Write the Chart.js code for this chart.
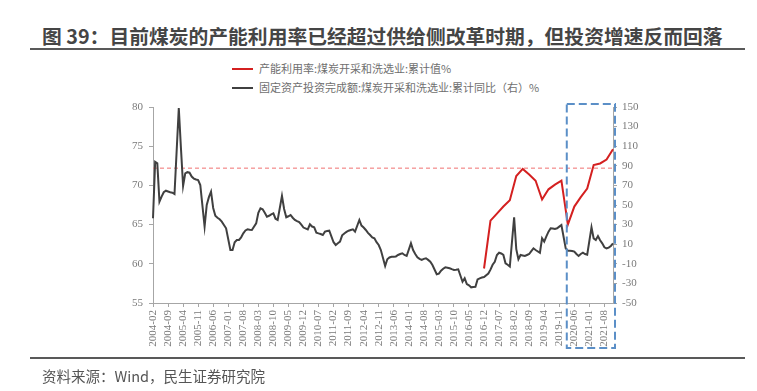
<!DOCTYPE html>
<html>
<head>
<meta charset="utf-8">
<script src="https://cdn.jsdelivr.net/npm/chart.js@4.4.1/dist/chart.umd.min.js"></script>
<style>
  body { margin: 0; background: #fff; width: 757px; height: 391px; overflow: hidden; position: relative;
         font-family: "Noto Sans CJK SC", sans-serif; }
  #title { position: absolute; left: 42px; top: 25px; font-size: 19.8px; line-height: 22px; font-weight: bold;
           color: #454545; white-space: nowrap; }
  .rule { position: absolute; left: 30px; width: 715px; height: 2px; background: #595959; }
  #source { position: absolute; left: 42px; top: 366px; font-size: 14.5px; line-height: 20px; color: #555; white-space: nowrap; }
  .legend { position: absolute; left: 232px; font-size: 11px; line-height: 14px; color: #6f6f6f; white-space: nowrap; }
  .legend i { display: inline-block; width: 21px; height: 2px; vertical-align: middle; margin-right: 6px; position: relative; top: -1px; }
  canvas { position: absolute; left: 0; top: 0; }
</style>
</head>
<body>
<div id="title">图 39：目前煤炭的产能利用率已经超过供给侧改革时期，但投资增速反而回落</div>
<div class="rule" style="top:48px"></div>
<div class="legend" style="top:61px"><i style="background:#d42020"></i>产能利用率:煤炭开采和洗选业:累计值%</div>
<div class="legend" style="top:80px"><i style="background:#404040"></i>固定资产投资完成额:煤炭开采和洗选业:累计同比（右）%</div>
<canvas id="chart" width="757" height="391"></canvas>
<div class="rule" style="top:357px"></div>
<div id="source">资料来源：Wind，民生证券研究院</div>
<script>
// monthly categories 2004-02 .. 2021-12
const months = [];
for (let y = 2004; y <= 2021; y++) {
  for (let m = 1; m <= 12; m++) {
    if (y === 2004 && m < 2) continue;
    months.push(y + "-" + String(m).padStart(2, "0"));
  }
}

// capacity utilisation, coal mining & washing, cumulative % (left axis, quarterly)
const utilQuarters = ["2016-12", "2017-03", "2017-06", "2017-09", "2017-12", "2018-03", "2018-06", "2018-09",
  "2018-12", "2019-03", "2019-06", "2019-09", "2019-12", "2020-03", "2020-06", "2020-09", "2020-12",
  "2021-03", "2021-06", "2021-09", "2021-12"];
const utilValues = [59.4, 65.5, 66.4, 67.3, 68.1, 71.2, 72.1, 71.4,
  70.6, 68.2, 69.5, 70.1, 70.6, 65.0, 67.3, 68.5, 69.6,
  72.6, 72.8, 73.3, 74.6];

// supply-side reform reference level (left axis)
const reformLevel = 72.2;

// fixed asset investment, coal mining & washing, cumulative YoY % (right axis, monthly; no January data)
const fixedInvestYoY = [
  36.4, 94, 92.5, 53.4, 58.5, 63, 64.6, 63.8, 63, 62.6, 61.2,            // 2004 Feb-Dec
  null, 149, 108, 69.4, 82.3, 83.5, 83, 79, 77, 76, 75.5, 70.4,          // 2005
  null, 27.9, 50, 58, 63.6, 47, 39, 37, 35.4, 33, 29.6, 26.2,            // 2006
  null, 4.1, 4, 12, 14.3, 14.3, 17, 21.1, 24, 25.2, 24.8, 24.5,          // 2007
  null, 31.3, 42, 46.6, 45.6, 42, 38.1, 39, 40.5, 41.5, 36, 34.7,        // 2008
  null, 59.2, 46, 37.5, 38.5, 39.8, 37, 34.7, 33.5, 32.5, 30, 27,        // 2009
  null, 25, 30.3, 28, 27.2, 21.8, 21, 20.4, 19.4, 22.8, 23.5, 23.8,      // 2010
  null, 12, 9.2, 11, 12.6, 19, 21, 22.5, 23.8, 24.5, 25.2, 22.8,         // 2011
  null, 34.7, 29, 27, 24.5, 21.5, 19.4, 17, 16, 12, 9.2, 4.1,            // 2012
  null, -12.2, -5.4, -3.5, -2.8, -2.8, -2.5, -1, 0, 0.7, -1, -2,         // 2013
  null, 10.9, 4, 0, -3.4, -5, -6.1, -5, -4.4, -6, -7.9, -11.2,           // 2014
  null, -20.7, -20, -17, -15, -13.6, -14, -14.6, -15.5, -16.3, -16, -15.6, // 2015
  null, -28.3, -24.8, -30.6, -32, -34, -33.6, -33.4, -26, -24.8, -24, -23.5, // 2016
  null, -20, -16, -11, -7.9, -1, 1.3, 0.5, -1, -9.5, -11, -12.8,         // 2017
  null, 37.5, 5, -5.4, -1, -1.5, -2, -1, 0, 3, 5.8, 4.1,                 // 2018
  null, 1.3, 16, 12.6, 18, 22.8, 26.2, 26, 25.5, 26.2, 27.9, 29.6,       // 2019
  null, 5.8, 3.4, 3.4, 3, 2.4, 0, -2, 0, 1.3, 0, -0.7,                   // 2020
  null, 27.2, 16, 14.3, 18.3, 14, 10.9, 6.8, 5.8, 6.5, 8.2, 10.9         // 2021
];

// x tick labels every 7 months
const labelStep = 7;
const boxStart = "2020-02";

const axisColor = "#a6a6a6";
const tickFont = { family: "Liberation Serif", size: 11 };
const tickColor = "#7a7a7a";

const focusBox = {
  id: "focusBox",
  afterDraw(chart) {
    const { ctx, chartArea, scales } = chart;
    const i = months.indexOf(boxStart);
    const left = (scales.x.getPixelForValue(i) + scales.x.getPixelForValue(i + 1)) / 2;
    const right = chartArea.right + 2;
    const top = chartArea.top - 3;
    const bottom = chartArea.bottom + 45;
    ctx.save();
    ctx.strokeStyle = "#5b8fc7";
    ctx.lineWidth = 2;
    ctx.setLineDash([8, 4]);
    ctx.strokeRect(left, top, right - left, bottom - top);
    ctx.restore();
  }
};

new Chart(document.getElementById("chart"), {
  type: "line",
  data: {
    labels: months,
    datasets: [
      {
        label: "产能利用率:煤炭开采和洗选业:累计值%",
        data: utilQuarters.map((m, i) => ({ x: m, y: utilValues[i] })),
        borderColor: "#d42020",
        borderWidth: 2,
        pointRadius: 0,
        tension: 0,
        yAxisID: "y"
      },
      {
        label: "固定资产投资完成额:煤炭开采和洗选业:累计同比（右）%",
        data: fixedInvestYoY,
        borderColor: "#404040",
        borderWidth: 2,
        pointRadius: 0,
        tension: 0,
        spanGaps: true,
        yAxisID: "y1"
      },
      {
        label: "reform",
        data: [{ x: months[0], y: reformLevel }, { x: months[months.length - 1], y: reformLevel }],
        borderColor: "#f07070",
        borderWidth: 1,
        borderDash: [4, 3],
        pointRadius: 0,
        yAxisID: "y"
      }
    ]
  },
  options: {
    responsive: false,
    animation: false,
    devicePixelRatio: 1,
    layout: { padding: { left: 100, right: 100, top: 107, bottom: 40 } },
    plugins: { legend: { display: false }, tooltip: { enabled: false } },
    scales: {
      x: {
        offset: false,
        afterFit(s) { s.height = 48; },
        border: { color: axisColor, width: 1 },
        grid: {
          drawOnChartArea: false,
          tickLength: 4,
          tickColor: c => (c.index % labelStep === 0 ? axisColor : "rgba(0,0,0,0)")
        },
        ticks: {
          autoSkip: false,
          maxRotation: 90,
          minRotation: 90,
          padding: 3,
          font: tickFont,
          color: tickColor,
          callback: (v, i) => (i % labelStep === 0 ? months[i] : "")
        }
      },
      y: {
        position: "left",
        min: 55,
        max: 80,
        afterFit(s) { s.width = 53; },
        border: { color: axisColor, width: 1 },
        grid: { drawOnChartArea: false, tickLength: 4, tickColor: axisColor },
        ticks: { stepSize: 5, padding: 6, font: tickFont, color: tickColor }
      },
      y1: {
        position: "right",
        min: -50,
        max: 150,
        afterFit(s) { s.width = 44; },
        border: { color: axisColor, width: 1 },
        grid: { drawOnChartArea: false, tickLength: 4, tickColor: axisColor },
        ticks: { stepSize: 20, padding: 5, font: tickFont, color: tickColor }
      }
    }
  },
  plugins: [focusBox]
});
</script>
</body>
</html>
